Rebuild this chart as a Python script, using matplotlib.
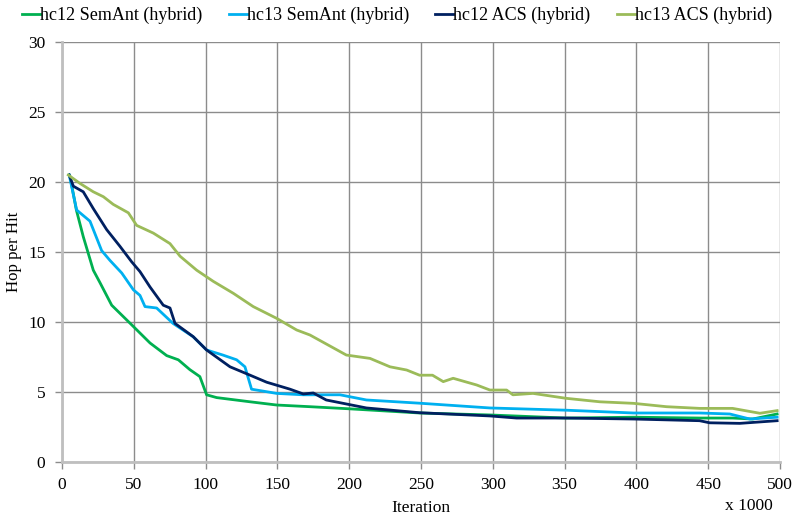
import matplotlib
matplotlib.use("Agg")
import matplotlib.pyplot as plt

# hc12 SemAnt (hybrid)
x_g = [5, 5.6, 10, 14.8, 21.8, 26.5, 34.6, 48.5, 61.3, 72.9, 81, 89, 96, 100.7, 107.7, 131, 149.5, 172.7, 200, 249, 298, 351, 398, 444, 467, 481, 498]
y_g = [20.5, 20.4, 18.0, 16.1, 13.7, 12.8, 11.2, 9.8, 8.5, 7.6, 7.3, 6.6, 6.1, 4.8, 4.6, 4.3, 4.07, 3.95, 3.8, 3.5, 3.36, 3.14, 3.2, 3.14, 3.14, 3.07, 3.43]
# hc13 SemAnt (hybrid)
x_b = [5, 10.2, 19.5, 27.6, 33.4, 41.6, 49.7, 54.3, 57.8, 65.9, 77.3, 91.3, 100.7, 112, 121.6, 127.4, 132, 149.5, 168, 193.6, 212, 249, 298, 351, 398, 444, 465, 479, 498]
y_b = [20.5, 18.0, 17.2, 15.1, 14.4, 13.5, 12.3, 11.9, 11.1, 11.0, 9.9, 8.95, 8.0, 7.64, 7.3, 6.8, 5.2, 4.9, 4.8, 4.8, 4.43, 4.2, 3.86, 3.7, 3.5, 3.5, 3.43, 3.07, 3.2]
# hc12 ACS (hybrid)
x_n = [5, 7.9, 14.8, 21.8, 31.1, 40.4, 48.5, 54.3, 61.3, 70.5, 75.2, 78.7, 91.4, 100.7, 117, 131, 142.5, 158.8, 168, 175, 184, 212, 249, 298, 316.6, 351, 398, 444, 451, 472, 498]
y_n = [20.5, 19.7, 19.3, 18.1, 16.6, 15.4, 14.3, 13.6, 12.5, 11.2, 11.0, 9.9, 8.95, 8.0, 6.8, 6.2, 5.7, 5.2, 4.86, 4.93, 4.43, 3.86, 3.52, 3.29, 3.14, 3.14, 3.07, 2.95, 2.8, 2.76, 2.95]
# hc13 ACS (hybrid)
x_o = [4.4, 12.5, 21.8, 28.8, 35.7, 46.2, 52, 63.6, 75.2, 82.2, 93.8, 105.4, 119.3, 133.2, 149.5, 163.4, 172.7, 198, 214.5, 228.4, 240, 249, 258, 265.5, 272.4, 288.8, 298, 309.6, 314, 328, 351, 374.6, 398, 421, 444, 467, 486, 498]
y_o = [20.5, 19.9, 19.3, 18.95, 18.4, 17.8, 16.9, 16.35, 15.6, 14.7, 13.7, 12.9, 12.05, 11.1, 10.26, 9.43, 9.07, 7.64, 7.4, 6.8, 6.57, 6.2, 6.2, 5.74, 5.98, 5.5, 5.14, 5.14, 4.8, 4.9, 4.55, 4.3, 4.19, 3.95, 3.83, 3.83, 3.48, 3.67]

labels = ["hc12 SemAnt (hybrid)", "hc13 SemAnt (hybrid)", "hc12 ACS (hybrid)", "hc13 ACS (hybrid)"]
colors = ["#00B050", "#00B0F0", "#002060", "#9BBB59"]
xticks = [0, 50, 100, 150, 200, 250, 300, 350, 400, 450, 500]
yticks = [0, 5, 10, 15, 20, 25, 30]

plt.rcParams['font.family'] = ['Liberation Serif', 'DejaVu Serif']
fig = plt.figure(figsize=(7.94, 5.18), dpi=100)
ax = fig.add_axes([62/794, 1-462/518, 718/794, 420/518])

for xs, ys, c, l in zip([x_g, x_b, x_n, x_o], [y_g, y_b, y_n, y_o], colors, labels):
    ax.plot(xs, ys, color=c, lw=2.0, label=l)

ax.set_xlim(0, 500)
ax.set_ylim(0, 30)
ax.set_xticks(xticks)
ax.set_yticks(yticks)
ax.grid(True, color="#8c8c8c", lw=1.0)
ax.set_axisbelow(True)
for s in ["top", "right"]:
    ax.spines[s].set_visible(False)
for s in ["left", "bottom"]:
    ax.spines[s].set_color("#bfbfbf")
    ax.spines[s].set_linewidth(2)
ax.tick_params(axis="both", labelsize=12.5, color="#8c8c8c", length=5, width=1)
ax.tick_params(axis="y", pad=7)
ax.tick_params(axis="x", pad=6)
ax.set_xlabel("Iteration", fontsize=12.5, labelpad=5)
ax.set_ylabel("Hop per Hit", fontsize=12.2)
ax.yaxis.set_label_coords(-0.056, 0.5)
fig.text(749/794, 1-506/518, "x 1000", fontsize=12.5, ha="center", va="center")

leg = fig.legend(loc="upper center", bbox_to_anchor=(0.5, 1.018), ncol=4, frameon=False,
                 fontsize=13.0, handlelength=1.0, handletextpad=0.0, columnspacing=1.45)

fig.savefig("out.png", dpi=100)
